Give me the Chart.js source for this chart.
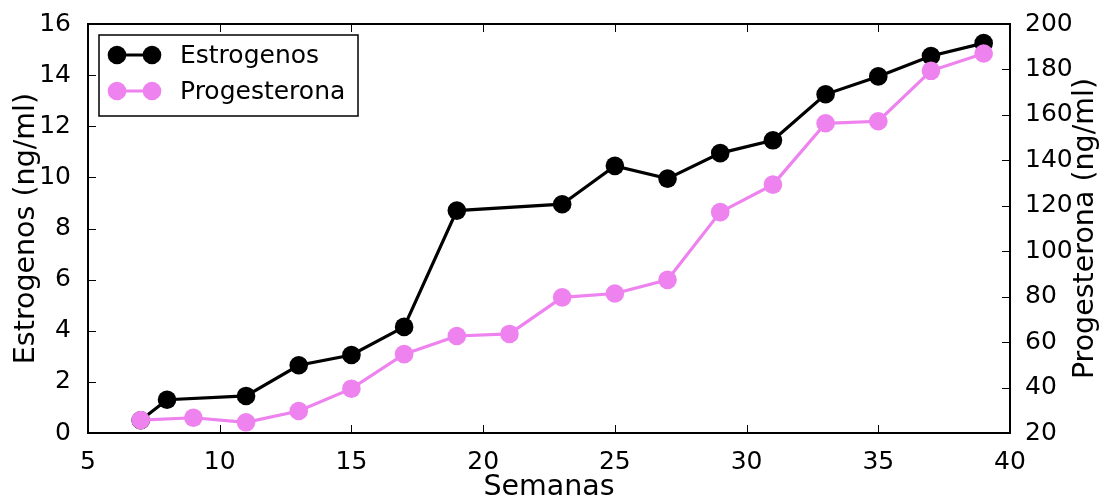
<!DOCTYPE html>
<html>
<head>
<meta charset="utf-8">
<script src="https://cdn.jsdelivr.net/npm/chart.js@4"></script>
<style>
html,body{margin:0;padding:0;background:#fff;}
canvas{display:block;}
</style>
</head>
<body>
<canvas id="c" width="1104" height="501"></canvas>
<script>
const estWeeks = [7, 8, 11, 13, 15, 17, 19, 23, 25, 27, 29, 31, 33, 35, 37, 39];
const estValues = [0.5, 1.3, 1.45, 2.65, 3.05, 4.15, 8.7, 8.95, 10.45, 9.95, 10.95, 11.45, 13.25, 13.95, 14.75, 15.25];
const progWeeks = [7, 9, 11, 13, 15, 17, 19, 21, 23, 25, 27, 29, 31, 33, 35, 37, 39];
const progValues = [25.7, 26.7, 24.7, 29.7, 39.5, 54.7, 62.7, 63.6, 79.7, 81.4, 87.4, 117.2, 129.3, 156.3, 157.2, 179.4, 187];
const seriesNames = ['Estrogenos', 'Progesterona'];
const xTitle = 'Semanas';
const yTitle = 'Estrogenos (ng/ml)';
const y2Title = 'Progesterona (ng/ml)';

const FONT = '"DejaVu Sans", sans-serif';
const colors = ['#000000', '#EE82EE'];
const LW = 3.2;

const framePlugin = {
  id: 'frame',
  afterDraw(chart) {
    const ctx = chart.ctx;
    const a = chart.chartArea;
    const sx = chart.scales.x, sy = chart.scales.y, sy2 = chart.scales.y2;
    ctx.save();
    // inward ticks
    ctx.strokeStyle = '#000';
    ctx.lineWidth = 1;
    const TL = 8;
    ctx.beginPath();
    sx.ticks.forEach(t => {
      const px = Math.round(sx.getPixelForValue(t.value)) + 0.5;
      ctx.moveTo(px, a.bottom); ctx.lineTo(px, a.bottom - TL);
      ctx.moveTo(px, a.top); ctx.lineTo(px, a.top + TL);
    });
    sy.ticks.forEach(t => {
      const py = Math.round(sy.getPixelForValue(t.value)) + 0.5;
      ctx.moveTo(a.left, py); ctx.lineTo(a.left + TL, py);
    });
    sy2.ticks.forEach(t => {
      const py = Math.round(sy2.getPixelForValue(t.value)) + 0.5;
      ctx.moveTo(a.right, py); ctx.lineTo(a.right - TL, py);
    });
    ctx.stroke();
    // frame
    ctx.lineWidth = 2;
    ctx.strokeRect(a.left, a.top, a.right - a.left, a.bottom - a.top);

    // titles
    ctx.fillStyle = '#000';
    ctx.font = '28.5px ' + FONT;
    ctx.textAlign = 'center';
    ctx.textBaseline = 'alphabetic';
    ctx.fillText(xTitle, (a.left + a.right) / 2, 495);
    const cy = (a.top + a.bottom) / 2;
    ctx.textBaseline = 'middle';
    ctx.save();
    ctx.translate(27, cy);
    ctx.rotate(-Math.PI / 2);
    ctx.fillText(yTitle, 0, 0);
    ctx.restore();
    ctx.save();
    ctx.translate(1086, cy);
    ctx.rotate(-Math.PI / 2);
    ctx.fillText(y2Title, 0, 0);
    ctx.restore();

    // legend
    ctx.fillStyle = '#fff';
    ctx.fillRect(99, 35, 259, 81);
    ctx.lineWidth = 1.5;
    ctx.strokeStyle = '#000';
    ctx.strokeRect(99, 35, 259, 81);
    const rows = [55, 91];
    rows.forEach((ry, i) => {
      ctx.strokeStyle = colors[i];
      ctx.lineWidth = LW;
      ctx.beginPath();
      ctx.moveTo(117, ry); ctx.lineTo(152, ry);
      ctx.stroke();
      ctx.fillStyle = colors[i];
      [117, 152].forEach(mx => {
        ctx.beginPath();
        ctx.arc(mx, ry, 9.3, 0, Math.PI * 2);
        ctx.fill();
      });
      ctx.fillStyle = '#000';
      ctx.font = '25px ' + FONT;
      ctx.textAlign = 'left';
      ctx.textBaseline = 'middle';
      ctx.fillText(seriesNames[i], 180, ry + 1);
    });
    ctx.restore();
  }
};

const tickFont = { family: FONT, size: 25 };

new Chart(document.getElementById('c'), {
  type: 'line',
  data: {
    datasets: [
      {
        label: seriesNames[0],
        data: estWeeks.map((w, i) => ({ x: w, y: estValues[i] })),
        borderColor: colors[0],
        backgroundColor: colors[0],
        pointBackgroundColor: colors[0],
        pointBorderColor: colors[0],
        borderWidth: LW,
        pointRadius: 9.3,
        pointBorderWidth: 0,
        yAxisID: 'y',
        order: 2,
        clip: false
      },
      {
        label: seriesNames[1],
        data: progWeeks.map((w, i) => ({ x: w, y: progValues[i] })),
        borderColor: colors[1],
        backgroundColor: colors[1],
        pointBackgroundColor: colors[1],
        pointBorderColor: colors[1],
        borderWidth: LW,
        pointRadius: 9.3,
        pointBorderWidth: 0,
        yAxisID: 'y2',
        order: 1,
        clip: false
      }
    ]
  },
  options: {
    responsive: false,
    animation: false,
    devicePixelRatio: 1,
    layout: { padding: { top: 20, left: 0, right: 0, bottom: 0 } },
    plugins: {
      legend: { display: false },
      tooltip: { enabled: false }
    },
    scales: {
      x: {
        type: 'linear',
        min: 5, max: 40,
        ticks: { stepSize: 5, font: tickFont, color: '#000', padding: 6, maxRotation: 0 },
        grid: { display: false },
        border: { display: false },
        afterFit(s) { s.height = 68; }
      },
      y: {
        position: 'left',
        min: 0, max: 16,
        ticks: { stepSize: 2, font: tickFont, color: '#000', padding: 9 },
        grid: { display: false },
        border: { display: false },
        afterFit(s) { s.width = 88; }
      },
      y2: {
        position: 'right',
        min: 20, max: 200,
        ticks: { stepSize: 20, font: tickFont, color: '#000', padding: 7 },
        grid: { display: false },
        border: { display: false },
        afterFit(s) { s.width = 94; }
      }
    }
  },
  plugins: [framePlugin]
});
</script>
</body>
</html>
